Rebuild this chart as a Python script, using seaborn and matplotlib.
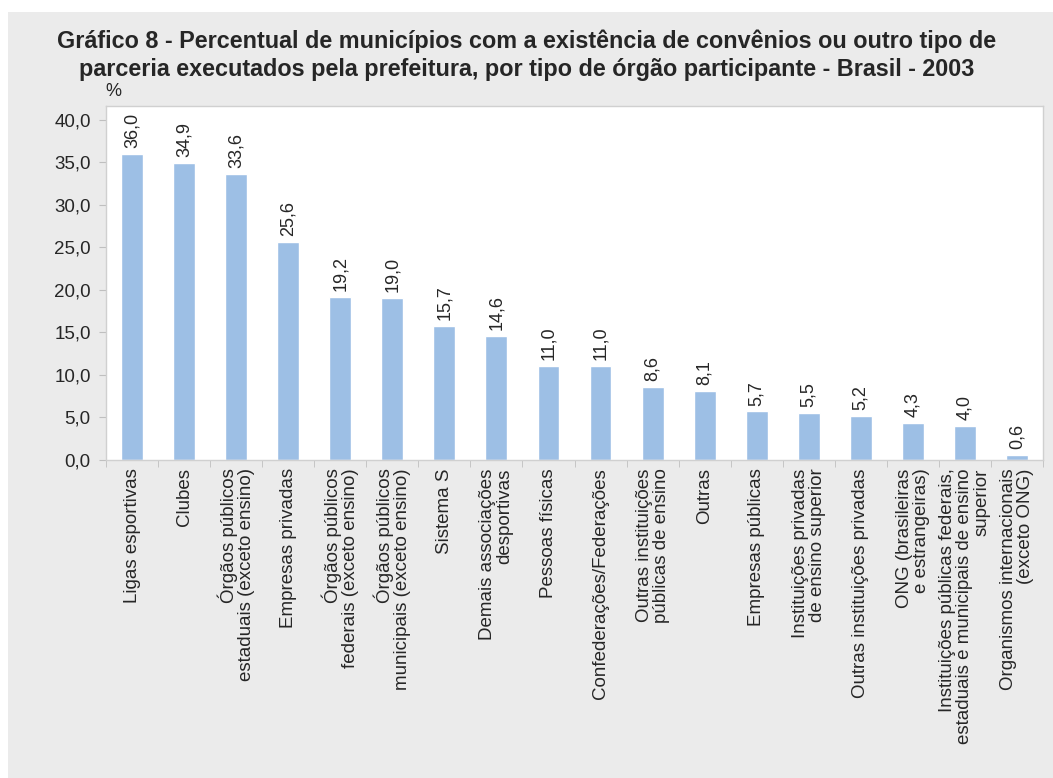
import matplotlib
matplotlib.use('Agg')
import pandas as pd
import seaborn as sns
import matplotlib.pyplot as plt
from matplotlib.patches import Rectangle
from matplotlib.ticker import FixedLocator

# dados
categorias = [
    'Ligas esportivas',
    'Clubes',
    'Órgãos públicos\nestaduais (exceto ensino)',
    'Empresas privadas',
    'Órgãos públicos\nfederais (exceto ensino)',
    'Órgãos públicos\nmunicipais (exceto ensino)',
    'Sistema S',
    'Demais associações\ndesportivas',
    'Pessoas físicas',
    'Confederações/Federações',
    'Outras instituições\npúblicas de ensino',
    'Outras',
    'Empresas públicas',
    'Instituições privadas\nde ensino superior',
    'Outras instituições privadas',
    'ONG (brasileiras\ne estrangeiras)',
    'Instituições públicas federais,\nestaduais e municipais de ensino\nsuperior',
    'Organismos internacionais\n(exceto ONG)',
]
percentuais = [36.0, 34.9, 33.6, 25.6, 19.2, 19.0, 15.7, 14.6, 11.0, 11.0,
               8.6, 8.1, 5.7, 5.5, 5.2, 4.3, 4.0, 0.6]
y_ticks = [0, 5, 10, 15, 20, 25, 30, 35, 40]

df = pd.DataFrame({'Categoria': categorias, 'Percentual': percentuais})

sns.set_style('white')
plt.rcParams['font.family'] = ['Liberation Sans', 'DejaVu Sans']

fig = plt.figure(figsize=(10.53, 7.78), dpi=100)
fig.patch.set_facecolor('white')
# painel cinza de fundo
fig.patches.append(Rectangle((8 / 1053, 0), 1 - 8 / 1053, 1 - 12 / 778,
                             transform=fig.transFigure, facecolor='#EBEBEB',
                             edgecolor='none', zorder=-1))

ax = fig.add_axes([106 / 1053, 1 - 460 / 778, (1043 - 106) / 1053, (460 - 106) / 778])
sns.barplot(data=df, x='Categoria', y='Percentual', color='#9DBFE5',
            width=0.42, saturation=1, ax=ax)

ax.set_ylim(0, 41.6)
ax.set_xlim(-0.5, len(categorias) - 0.5)
ax.set_yticks(y_ticks)
ax.set_yticklabels([f'{v:.1f}'.replace('.', ',') for v in y_ticks], fontsize=13.5)
ax.set_xticks(range(len(categorias)))
ax.set_xticklabels(categorias, rotation=90, fontsize=13.5, va='top', ha='center',
                   multialignment='right', linespacing=1.0)
ax.tick_params(axis='x', which='major', length=0, pad=6)
ax.xaxis.set_minor_locator(FixedLocator([i + 0.5 for i in range(-1, len(categorias))]))
ax.tick_params(axis='x', which='minor', length=5, color='#BFBFBF', direction='out', bottom=True)
ax.tick_params(axis='y', length=5, color='#BFBFBF', direction='out', left=True, pad=6)
ax.set_xlabel('')
ax.set_ylabel('')
for s in ax.spines.values():
    s.set_color('#D0D0D0')
    s.set_linewidth(1)

for i, v in enumerate(percentuais):
    ax.text(i, v + 0.7, f'{v:.1f}'.replace('.', ','), rotation=90, ha='center',
            va='bottom', fontsize=13)

fig.text(0.5, 1 - 55 / 778,
         'Gráfico 8 - Percentual de municípios com a existência de convênios ou outro tipo de\n'
         'parceria executados pela prefeitura, por tipo de órgão participante - Brasil - 2003',
         ha='center', va='center', fontsize=16.8, fontweight='bold', linespacing=1.3)
fig.text(113 / 1053, 1 - 91 / 778, '%', ha='center', va='center', fontsize=13)

plt.savefig('out.png', dpi=100)
